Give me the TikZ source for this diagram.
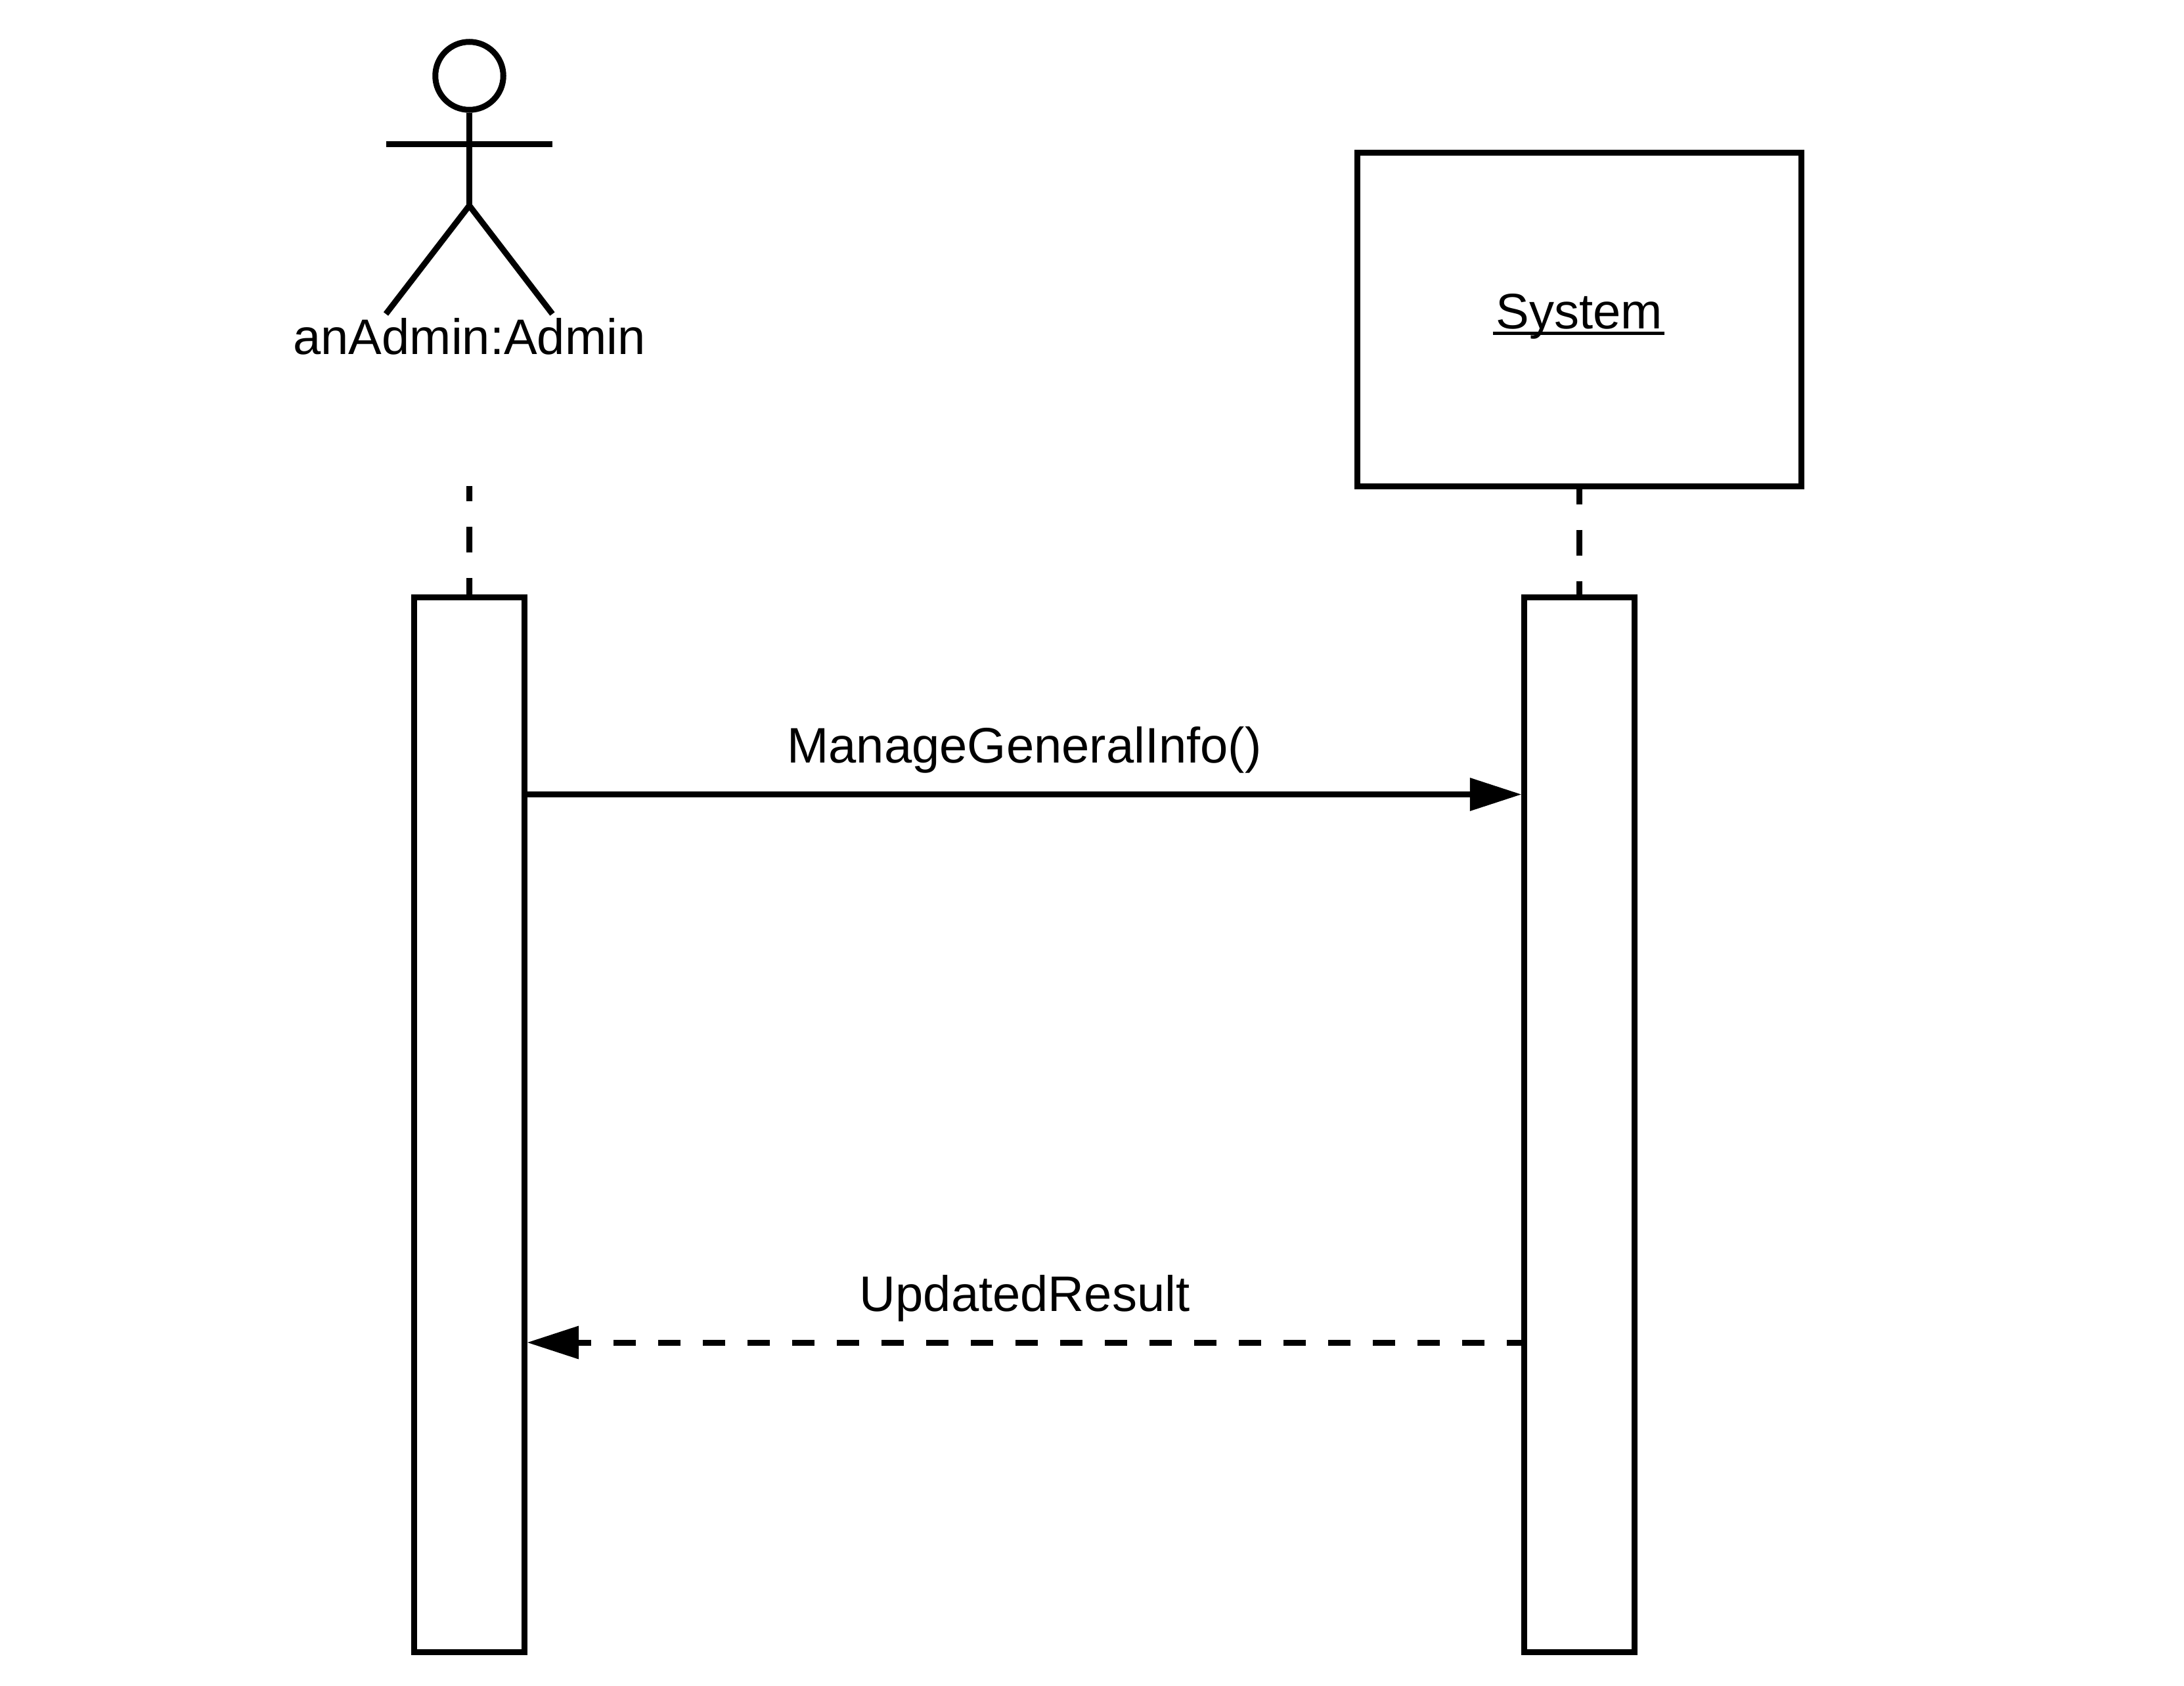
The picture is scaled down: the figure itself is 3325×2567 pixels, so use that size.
\documentclass[tikz,border=0pt]{standalone}
\usepackage{fontspec}
\setmainfont{Liberation Sans}
\usetikzlibrary{arrows.meta}
\tikzset{
  ink/.style={line width=9pt,draw=black,line cap=butt},
  boxnode/.style={ink,rectangle,fill=white,inner sep=0pt},
  activation/.style={boxnode,minimum width=168pt,minimum height=1606pt},
  lbl/.style={inner sep=0pt,anchor=base,font=\fontsize{76}{91}\selectfont},
  lifeline/.style={ink,dash pattern=on 39pt off 39pt},
  msgtip/.style={-{Triangle[length=78pt,width=51pt,line width=0pt]}},
}
\begin{document}
\begin{tikzpicture}[x=1pt,y=-1pt]
\useasboundingbox[fill=white] (0,0) rectangle (3325,2567);
% actor
\node[ink,circle,inner sep=0pt,minimum size=103.5pt] (head) at (714.5,115.5) {};
\coordinate (hip) at (714.5,313);
\coordinate (armL) at (587.5,219);
\coordinate (armR) at (841,219);
\coordinate (footL) at (587.5,478);
\coordinate (footR) at (841,478);
\draw[ink] (head.south) -- (hip);
\draw[ink] (armL) -- (armR);
\draw[ink,line join=miter] (footL) -- (hip) -- (footR);
\node[lbl] (actorlabel) at (714.5,539) {anAdmin:Admin};
% system object
\node[boxnode,minimum width=675.5pt,minimum height=507.5pt] (system) at (2404.25,486.25) {};
\node[lbl] (systemlabel) at (2404.5,500) {System};
\draw[line width=5pt] ([xshift=-5pt,yshift=-7pt]systemlabel.base west) -- ([xshift=3pt,yshift=-7pt]systemlabel.base east);
% activations
\node[activation] (actA) at (714.6,1712.5) {};
\node[activation] (actS) at (2404.25,1712.5) {};
% lifelines
\coordinate (lifeA) at (714.5,740);
\draw[lifeline,dash phase=16pt] (lifeA) -- (actA.north);
\draw[lifeline,dash phase=16pt] (system.south) -- (actS.north);
% messages
\coordinate (callStart) at (actA.east |- 0,1209.5);
\coordinate (callEnd) at (actS.west |- 0,1209.5);
\draw[ink,msgtip] (callStart) -- (callEnd);
\node[lbl] (calllabel) at (1559.5,1161.5) {ManageGeneralInfo()};
\coordinate (retStart) at (actS.west |- 0,2044);
\coordinate (retEnd) at (actA.east |- 0,2044);
\draw[ink,msgtip,dash pattern=on 34pt off 34pt,dash phase=12pt] (retStart) -- (retEnd);
\node[lbl] (retlabel) at (1560,1996) {UpdatedResult};
\end{tikzpicture}
\end{document}
